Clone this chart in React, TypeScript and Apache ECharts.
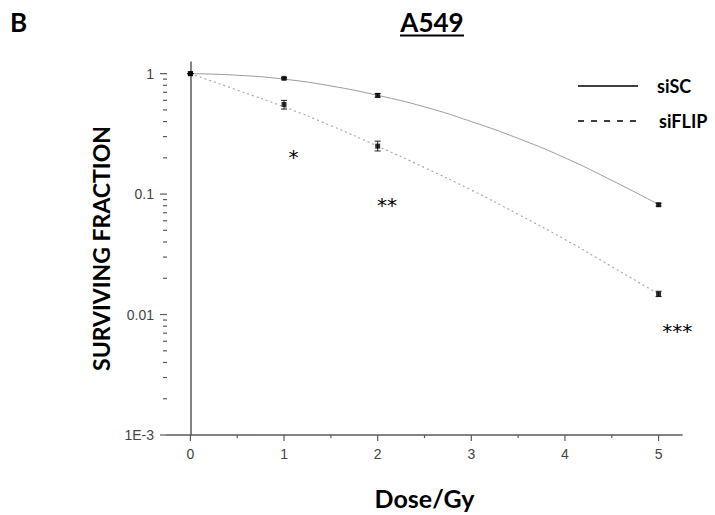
import React, { useEffect, useRef } from "react";
import * as echarts from "echarts";

// ---- data ----
const doses = [0, 1, 2, 5];
const siSC = [1, 0.914, 0.66, 0.0816];
const siSCLow = [1, 0.902, 0.638, 0.0795];
const siSCHigh = [1, 0.926, 0.684, 0.0838];
const siFLIP = [1, 0.555, 0.25, 0.0148];
const siFLIPLow = [1, 0.508, 0.228, 0.0141];
const siFLIPHigh = [1, 0.6, 0.275, 0.0156];

// fitted curves at half-Gy steps
const curveDoses = [0, 0.5, 1, 1.5, 2, 2.5, 3, 3.5, 4, 4.5, 5];
const siSCCurve = [1, 0.97, 0.9, 0.79, 0.66, 0.53, 0.4, 0.29, 0.2, 0.13, 0.082];
const siFLIPCurve = [1, 0.73, 0.53, 0.37, 0.25, 0.166, 0.108, 0.068, 0.042, 0.025, 0.0148];

// tick labels
const xTickValues = [0, 1, 2, 3, 4, 5];
const xTickLabels = ["0", "1", "2", "3", "4", "5"];
const xMinorTickValues = [0.5, 1.5, 2.5, 3.5, 4.5];
const yTickValues = [0.001, 0.01, 0.1, 1];
const yTickLabels = ["1E-3", "0.01", "0.1", "1"];
const yMinorMultipliers = [2, 3, 4, 5, 6, 7, 8, 9];

// significance marks
const annotations = ["*", "**", "***"];
const annotationX = [1.1, 2.1, 5.2];
const annotationY = [0.224, 0.09, 0.0081];

const X_MIN = -0.25;
const X_MAX = 5.25;
const Y_MIN = 0.001;
const Y_MAX = 1.249;

const AXIS_COLOR = "#5a5a5a";
const LABEL_COLOR = "#444";
const BOLD_FONT = "Lato, 'Open Sans', sans-serif";

export default function App() {
  const ref = useRef<HTMLDivElement>(null);

  useEffect(() => {
    if (!ref.current) return;
    const chart = echarts.init(ref.current, null, { renderer: "svg" });

    const yTickData: number[][] = [];
    yTickValues.forEach((v) => yTickData.push([X_MIN, v, 1]));
    for (let i = 0; i < yTickValues.length - 1; i++) {
      yMinorMultipliers.forEach((k) => yTickData.push([X_MIN, k * yTickValues[i], 0]));
    }
    const xTickData: number[][] = [];
    xTickValues.forEach((v) => xTickData.push([v, Y_MIN, 1]));
    xMinorTickValues.forEach((v) => xTickData.push([v, Y_MIN, 0]));

    const errData = (lo: number[], hi: number[]) => doses.map((d, i) => [d, lo[i], hi[i]]);

    const labelFor = (v: number) => {
      for (let i = 0; i < yTickValues.length; i++) {
        if (Math.abs(Math.log10(v) - Math.log10(yTickValues[i])) < 1e-6) return yTickLabels[i];
      }
      return "";
    };
    const xLabelFor = (v: number) => {
      for (let i = 0; i < xTickValues.length; i++) {
        if (Math.abs(v - xTickValues[i]) < 1e-9) return xTickLabels[i];
      }
      return "";
    };

    const errSeries = (name: string, lo: number[], hi: number[]) => ({
      name,
      type: "custom",
      clip: false,
      silent: true,
      z: 4,
      data: errData(lo, hi),
      renderItem: (_p: any, api: any) => {
        const x = api.value(0);
        const a = api.coord([x, api.value(1)]);
        const b = api.coord([x, api.value(2)]);
        const w = 3;
        const st = { stroke: "#222", lineWidth: 1 };
        return {
          type: "group",
          children: [
            { type: "line", shape: { x1: a[0], y1: a[1], x2: b[0], y2: b[1] }, style: st },
            { type: "line", shape: { x1: a[0] - w, y1: a[1], x2: a[0] + w, y2: a[1] }, style: st },
            { type: "line", shape: { x1: b[0] - w, y1: b[1], x2: b[0] + w, y2: b[1] }, style: st },
          ],
        };
      },
    });

    chart.setOption({
      animation: false,
      backgroundColor: "#fff",
      grid: { left: 167, top: 62, right: 33, bottom: 78.5, containLabel: false },
      xAxis: {
        type: "value",
        min: X_MIN,
        max: X_MAX,
        minInterval: 1,
        maxInterval: 1,
        splitLine: { show: false },
        axisLine: { show: true, lineStyle: { color: AXIS_COLOR, width: 1.5 } },
        axisTick: { show: false },
        axisLabel: {
          margin: 12,
          color: LABEL_COLOR,
          fontSize: 14,
          fontFamily: "'Liberation Sans', Arial, sans-serif",
          formatter: (v: number) => xLabelFor(v),
        },
        name: "Dose/Gy",
        nameLocation: "middle",
        nameGap: 50,
        nameTextStyle: { fontFamily: BOLD_FONT, fontWeight: "bold", fontSize: 25, color: "#000" },
      },
      yAxis: {
        type: "log",
        min: Y_MIN,
        max: Y_MAX,
        logBase: 10,
        splitLine: { show: false },
        axisLine: { show: true, lineStyle: { color: AXIS_COLOR, width: 1.5 } },
        axisTick: { show: false },
        axisLabel: {
          margin: 13,
          color: LABEL_COLOR,
          fontSize: 14,
          fontFamily: "'Liberation Sans', Arial, sans-serif",
          formatter: (v: number) => labelFor(v),
        },
        name: "SURVIVING FRACTION",
        nameLocation: "middle",
        nameGap: 55,
        nameRotate: 90,
        nameTextStyle: { fontFamily: BOLD_FONT, fontWeight: "bold", fontSize: 23, color: "#000" },
      },
      graphic: [
        {
          type: "text",
          left: 10,
          top: 9,
          style: { text: "B", fontFamily: BOLD_FONT, fontWeight: "bold", fontSize: 26, fill: "#000" },
        },
        {
          type: "text",
          x: 432,
          y: 22,
          style: {
            text: "A549",
            align: "center",
            verticalAlign: "middle",
            fontFamily: BOLD_FONT,
            fontWeight: "bold",
            fontSize: 26,
            fill: "#000",
          },
        },
        { type: "line", shape: { x1: 400, y1: 35.5, x2: 464, y2: 35.5 }, style: { stroke: "#000", lineWidth: 2 } },
        { type: "line", shape: { x1: 578, y1: 86, x2: 638, y2: 86 }, style: { stroke: "#000", lineWidth: 1.6 } },
        {
          type: "text",
          x: 657,
          y: 86,
          style: { text: "siSC", verticalAlign: "middle", fontFamily: BOLD_FONT, fontWeight: "bold", fontSize: 18, fill: "#000" },
        },
        {
          type: "line",
          shape: { x1: 578, y1: 121, x2: 638, y2: 121 },
          style: { stroke: "#000", lineWidth: 1.6, lineDash: [6, 7] },
        },
        {
          type: "text",
          x: 659,
          y: 121,
          style: { text: "siFLIP", verticalAlign: "middle", fontFamily: BOLD_FONT, fontWeight: "bold", fontSize: 18, fill: "#000" },
        },
      ],
      series: [
        {
          name: "yTicks",
          type: "custom",
          clip: false,
          silent: true,
          data: yTickData,
          renderItem: (_p: any, api: any) => {
            const p = api.coord([api.value(0), api.value(1)]);
            const len = api.value(2) ? 7 : 4;
            return {
              type: "line",
              shape: { x1: p[0] - len, y1: p[1], x2: p[0], y2: p[1] },
              style: { stroke: AXIS_COLOR, lineWidth: 1.2 },
            };
          },
        },
        {
          name: "xTicks",
          type: "custom",
          clip: false,
          silent: true,
          data: xTickData,
          renderItem: (_p: any, api: any) => {
            const p = api.coord([api.value(0), api.value(1)]);
            const len = api.value(2) ? 6 : 3;
            return {
              type: "line",
              shape: { x1: p[0], y1: p[1], x2: p[0], y2: p[1] + len },
              style: { stroke: AXIS_COLOR, lineWidth: 1.2 },
            };
          },
        },
        {
          name: "siSC fit",
          type: "line",
          smooth: true,
          symbol: "none",
          silent: true,
          data: curveDoses.map((d, i) => [d, siSCCurve[i]]),
          lineStyle: { color: "#9c9c9c", width: 1 },
          z: 2,
        },
        {
          name: "siFLIP fit",
          type: "line",
          smooth: true,
          symbol: "none",
          silent: true,
          data: curveDoses.map((d, i) => [d, siFLIPCurve[i]]),
          lineStyle: { color: "#a8a8a8", width: 1.2, type: [2, 3] },
          z: 2,
        },
        errSeries("siSC err", siSCLow, siSCHigh),
        errSeries("siFLIP err", siFLIPLow, siFLIPHigh),
        {
          name: "siSC",
          type: "scatter",
          symbol: "rect",
          symbolSize: 5,
          itemStyle: { color: "#000" },
          data: doses.map((d, i) => [d, siSC[i]]),
          z: 5,
        },
        {
          name: "siFLIP",
          type: "scatter",
          symbol: "rect",
          symbolSize: 5,
          itemStyle: { color: "#000" },
          data: doses.map((d, i) => [d, siFLIP[i]]),
          z: 5,
        },
        {
          name: "significance",
          type: "custom",
          clip: false,
          silent: true,
          data: annotations.map((_t, i) => [annotationX[i], annotationY[i], i]),
          renderItem: (_p: any, api: any) => {
            const p = api.coord([api.value(0), api.value(1)]);
            return {
              type: "text",
              x: p[0],
              y: p[1] + 5,
              style: {
                text: annotations[api.value(2)],
                align: "center",
                verticalAlign: "middle",
                fontFamily: "'DejaVu Sans', sans-serif",
                fontSize: 20,
                fill: "#000",
              },
            };
          },
        },
      ],
    });

    return () => chart.dispose();
  }, []);

  return (
    <div
      ref={ref}
      style={{ position: "absolute", left: 0, top: 0, width: 715, height: 515 }}
    />
  );
}
